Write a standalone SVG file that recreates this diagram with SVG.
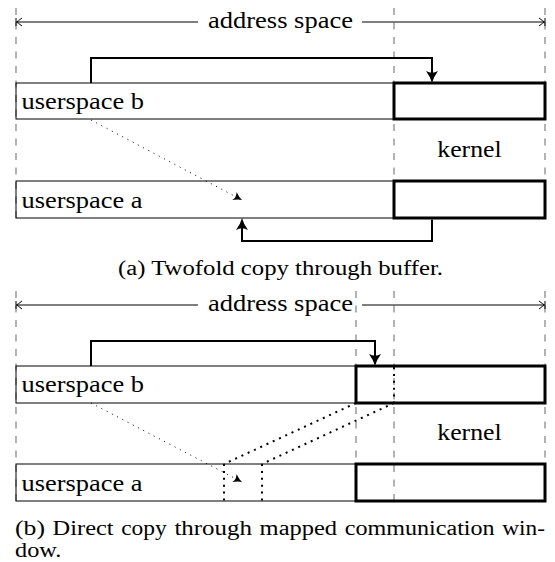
<svg xmlns="http://www.w3.org/2000/svg" width="555" height="562" viewBox="0 0 555 562">
  <style>
    .lbl { font-family: "Liberation Serif", "Times New Roman", serif; font-size: 23px; fill: #000; }
    .cap { font-family: "Liberation Serif", "Times New Roman", serif; font-size: 20.5px; fill: #000; }
    .guide { fill: none; stroke: #808080; stroke-width: 1.2; stroke-dasharray: 7 7.5; }
    .user { fill: none; stroke: #000; stroke-width: 1; }
    .kern { fill: none; stroke: #000; stroke-width: 3; }
    .copy { fill: none; stroke: #000; stroke-width: 2; marker-end: url(#head); }
    .hint { fill: none; stroke: #000; stroke-width: 1; stroke-dasharray: 1 4.9; marker-end: url(#headSmall); }
    .window { fill: none; stroke: #000; stroke-width: 2; stroke-dasharray: 2 4.9; }
    .span { fill: none; stroke: #000; stroke-width: 1; marker-end: url(#headTo); }
    .bar { fill: none; stroke: #000; stroke-width: 1; }
  </style>
  <defs>
    <!-- thick copy arrow tip: sits 3px past the path end -->
    <marker id="head" markerUnits="userSpaceOnUse" viewBox="-11 -7 15 14" refX="0" refY="0" markerWidth="15" markerHeight="14" orient="auto">
      <path d="M3,0 Q-3,-1.5 -9,-6 Q-5.5,0 -9,6 Q-3,1.5 3,0 Z" fill="#000"/>
    </marker>
    <marker id="headSmall" markerUnits="userSpaceOnUse" viewBox="-10 -6 11 12" refX="0" refY="0" markerWidth="11" markerHeight="12" orient="auto">
      <path d="M0,0 Q-4,-1 -8.5,-4.5 Q-6,0 -8.5,4.5 Q-4,1 0,0 Z" fill="#000"/>
    </marker>
    <marker id="headTo" markerUnits="userSpaceOnUse" viewBox="-7 -5 8 10" refX="0" refY="0" markerWidth="8" markerHeight="10" orient="auto">
      <path d="M-5.5,-4 Q-1.5,-0.8 0,0 Q-1.5,0.8 -5.5,4" fill="none" stroke="#000" stroke-width="1"/>
    </marker>
  </defs>

  <!-- (a) twofold copy -->
  <g id="panel-a">
    <g id="a-guides">
      <path class="guide" d="M16,8 V218"/>
      <path class="guide" d="M394,8 V218"/>
      <path class="guide" d="M545,8 V218"/>
    </g>
    <g id="a-address-space">
      <path class="span" d="M198,22 H16.5"/>
      <path class="span" d="M362,22 H544.5"/>
      <path class="bar" d="M16,18 V26 M545,18 V26"/>
      <text class="lbl" x="280.5" y="27.5" text-anchor="middle" textLength="145" lengthAdjust="spacingAndGlyphs">address space</text>
    </g>
    <g id="a-userspace-b">
      <rect class="user" x="16" y="83" width="378" height="36"/>
      <text class="lbl" x="21.5" y="109.3" textLength="122.5" lengthAdjust="spacingAndGlyphs">userspace b</text>
    </g>
    <g id="a-kernel-b">
      <rect class="kern" x="394" y="83" width="151" height="36"/>
    </g>
    <g id="a-kernel-label">
      <text class="lbl" x="469.5" y="157" text-anchor="middle" textLength="64.5" lengthAdjust="spacingAndGlyphs">kernel</text>
    </g>
    <g id="a-userspace-a">
      <rect class="user" x="16" y="181" width="378" height="37"/>
      <text class="lbl" x="21.5" y="207.5" textLength="121" lengthAdjust="spacingAndGlyphs">userspace a</text>
    </g>
    <g id="a-kernel-a">
      <rect class="kern" x="394" y="181" width="151" height="37"/>
    </g>
    <g id="a-connectors">
      <path class="copy" d="M91,83 V58 H432 V80"/>
      <path class="copy" d="M432,219.5 V241 H242 V221"/>
      <path class="hint" d="M91,120 L242,200"/>
    </g>
    <text class="cap" x="280.5" y="274.5" text-anchor="middle" textLength="325" lengthAdjust="spacingAndGlyphs">(a) Twofold copy through buffer.</text>
  </g>

  <!-- (b) direct copy through a mapped window -->
  <g id="panel-b">
    <g id="b-guides">
      <path class="guide" d="M16,291 V501"/>
      <path class="guide" d="M356,291 V501"/>
      <path class="guide" d="M394,291 V501"/>
      <path class="guide" d="M545,291 V501"/>
    </g>
    <g id="b-address-space">
      <path class="span" d="M198,305 H16.5"/>
      <path class="span" d="M362,305 H544.5"/>
      <path class="bar" d="M16,301 V309 M545,301 V309"/>
      <text class="lbl" x="280.5" y="310.5" text-anchor="middle" textLength="145" lengthAdjust="spacingAndGlyphs">address space</text>
    </g>
    <g id="b-userspace-b">
      <rect class="user" x="16" y="366" width="340" height="37"/>
      <text class="lbl" x="21.5" y="392.3" textLength="122.5" lengthAdjust="spacingAndGlyphs">userspace b</text>
    </g>
    <g id="b-kernel-b">
      <rect class="kern" x="356" y="366" width="189" height="37"/>
    </g>
    <g id="b-kernel-label">
      <text class="lbl" x="469.5" y="440" text-anchor="middle" textLength="64.5" lengthAdjust="spacingAndGlyphs">kernel</text>
    </g>
    <g id="b-userspace-a">
      <rect class="user" x="16" y="464" width="340" height="37"/>
      <text class="lbl" x="21.5" y="490.5" textLength="121" lengthAdjust="spacingAndGlyphs">userspace a</text>
    </g>
    <g id="b-kernel-a">
      <rect class="kern" x="356" y="464" width="189" height="37"/>
    </g>
    <g id="b-connectors">
      <path class="copy" d="M91,366 V341 H375 V363"/>
      <path class="hint" d="M91,403 L242,482"/>
      <path class="window" d="M394,367 V403"/>
      <path class="window" d="M356,403 L224,464"/>
      <path class="window" d="M394,403 L262,464"/>
      <path class="window" d="M224,464 V501"/>
      <path class="window" d="M262,464 V501"/>
    </g>
    <!-- justified caption: one text per word -->
    <g id="b-caption">
      <text class="cap" x="15" y="534.5" textLength="30" lengthAdjust="spacingAndGlyphs">(b)</text>
      <text class="cap" x="52.6" y="534.5" textLength="61" lengthAdjust="spacingAndGlyphs">Direct</text>
      <text class="cap" x="121.2" y="534.5" textLength="45.6" lengthAdjust="spacingAndGlyphs">copy</text>
      <text class="cap" x="174.4" y="534.5" textLength="77.6" lengthAdjust="spacingAndGlyphs">through</text>
      <text class="cap" x="259.6" y="534.5" textLength="77.5" lengthAdjust="spacingAndGlyphs">mapped</text>
      <text class="cap" x="344.7" y="534.5" textLength="150" lengthAdjust="spacingAndGlyphs">communication</text>
      <text class="cap" x="502.3" y="534.5" textLength="42.7" lengthAdjust="spacingAndGlyphs">win-</text>
      <text class="cap" x="15" y="557" textLength="46.3" lengthAdjust="spacingAndGlyphs">dow.</text>
    </g>
  </g>
</svg>
